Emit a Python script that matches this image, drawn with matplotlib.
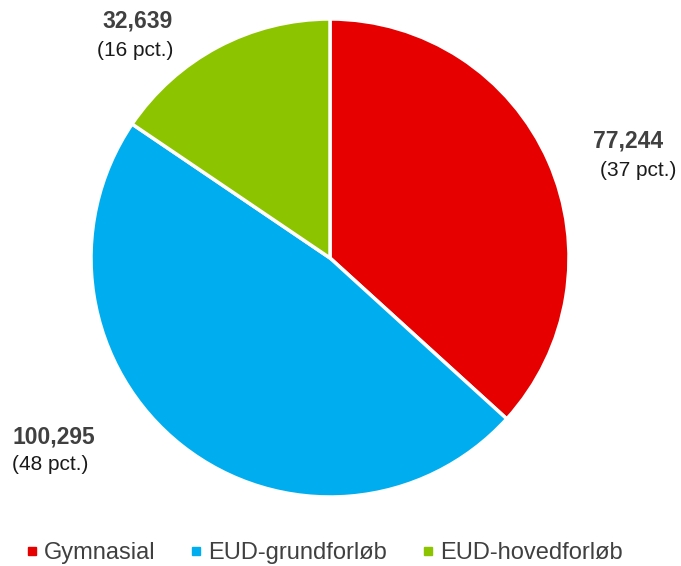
import matplotlib.pyplot as plt
from matplotlib.lines import Line2D

plt.rcParams['font.family'] = ['Liberation Sans', 'DejaVu Sans']

# data
categories = ['Gymnasial', 'EUD-grundforløb', 'EUD-hovedforløb']
values = [77244, 100295, 32639]
value_labels = ['77,244', '100,295', '32,639']
pct_labels = ['(37 pct.)', '(48 pct.)', '(16 pct.)']
colors = ['#e60000', '#00aeef', '#8cc400']

fig = plt.figure(figsize=(6.81, 5.66), dpi=100)
ax = fig.add_axes([0, 0, 1, 1])

# pie in pixel-like coordinates (y measured from bottom)
ax.pie(values, colors=colors, startangle=90, counterclock=False,
       center=(330, 566 - 258), radius=239, frame=True,
       wedgeprops=dict(edgecolor='white', linewidth=2.5))
ax.set_xlim(0, 681)
ax.set_ylim(0, 566)
ax.set_aspect('equal')
ax.axis('off')

# label positions (number, pct) in figure pixels from top
label_pos = [((628, 141), (638, 170), 'center'),
             ((12, 437), (12, 464), 'left'),
             ((138, 21), (135, 50), 'center')]
for (npos, ppos, ha), v, p in zip(label_pos, value_labels, pct_labels):
    ax.text(npos[0], 566 - npos[1], v, ha=ha, va='center', fontsize=16.5,
            fontweight='bold', color='#404040')
    ax.text(ppos[0], 566 - ppos[1], p, ha=ha, va='center', fontsize=15,
            color='#1a1a1a')

handles = [Line2D([], [], marker='s', linestyle='none', markersize=5.5,
                  markerfacecolor=c, markeredgecolor=c) for c in colors]
fig.legend(handles, categories, loc='center', bbox_to_anchor=(0.476, 1 - 553 / 566),
           ncol=3, frameon=False, fontsize=17, handlelength=0.5,
           handletextpad=0.25, columnspacing=1.5, labelcolor='#404040',
           borderaxespad=0, borderpad=0)

fig.savefig('out.png', dpi=100)
